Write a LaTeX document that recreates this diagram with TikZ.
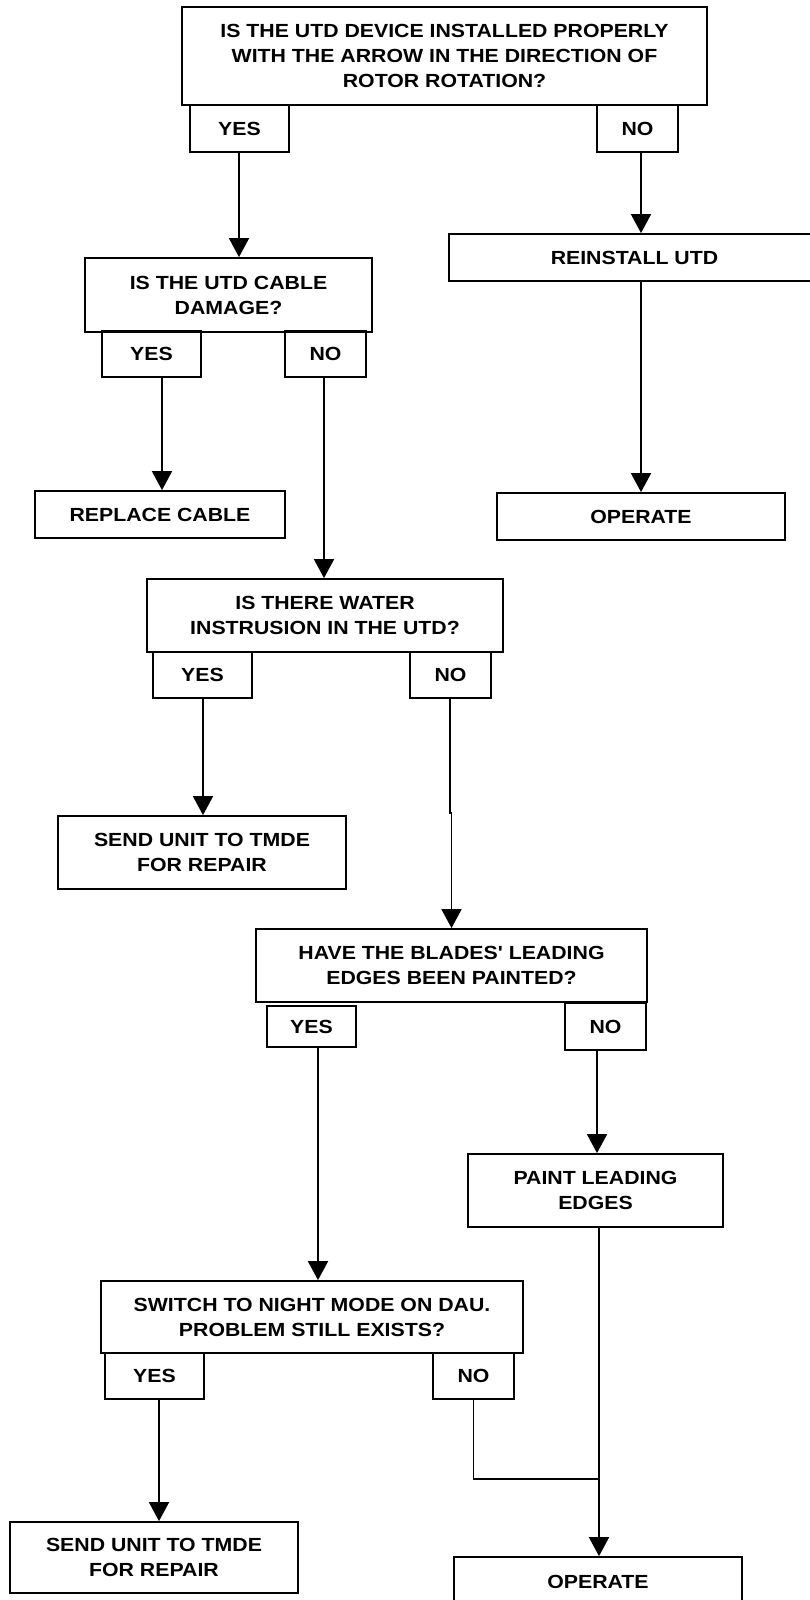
\documentclass[tikz,border=0pt]{standalone}
\usepackage{fontspec}
\setmainfont{Liberation Sans}
\newfontfamily\boxfont{Liberation Sans}[FakeStretch=1.12]
\usetikzlibrary{arrows.meta}
\tikzset{
  box/.style={draw, line width=1.8pt, rectangle, inner sep=0pt, align=center,
    font=\boxfont\fontsize{19}{25}\selectfont\bfseries},
  arr/.style={line width=1.8pt, -{Triangle[length=19pt,width=20pt]}},
  ln/.style={line width=1.8pt},
}
\begin{document}
\begin{tikzpicture}[x=1pt,y=-1pt]
\useasboundingbox (0,0) rectangle (810,1600);
\clip (0,0) rectangle (810,1600);
% nodes
\node[box, minimum width=525, minimum height=98] (q1) at (444.5,56) {IS THE UTD DEVICE INSTALLED PROPERLY\\WITH THE ARROW IN THE DIRECTION OF\\ROTOR ROTATION?};
\node[box, minimum width=99, minimum height=47] (yes1) at (239.5,128.5) {YES};
\node[box, minimum width=81, minimum height=47] (no1) at (637.5,128.5) {NO};
\node[box, minimum width=371, minimum height=47] (reinst) at (634.5,257.5) {REINSTALL UTD};
\node[box, minimum width=287, minimum height=74] (cable) at (228.5,295) {IS THE UTD CABLE\\DAMAGE?};
\node[box, minimum width=99, minimum height=46] (yes2) at (151.5,354) {YES};
\node[box, minimum width=81, minimum height=46] (no2) at (325.5,354) {NO};
\node[box, minimum width=250, minimum height=47] (replace) at (160,514.5) {REPLACE CABLE};
\node[box, minimum width=288, minimum height=47] (operate1) at (641,516.5) {OPERATE};
\node[box, minimum width=356, minimum height=73] (q3) at (325,615.5) {IS THERE WATER\\INSTRUSION IN THE UTD?};
\node[box, minimum width=99, minimum height=46] (yes3) at (202.5,675) {YES};
\node[box, minimum width=81, minimum height=46] (no3) at (450.5,675) {NO};
\node[box, minimum width=288, minimum height=73] (send1) at (202,852.5) {SEND UNIT TO TMDE\\FOR REPAIR};
\node[box, minimum width=391, minimum height=73] (q4) at (451.5,965.5) {HAVE THE BLADES' LEADING\\EDGES BEEN PAINTED?};
\node[box, minimum width=89, minimum height=41] (yes4) at (311.5,1026.5) {YES};
\node[box, minimum width=81, minimum height=47] (no4) at (605.5,1026.5) {NO};
\node[box, minimum width=255, minimum height=73] (paint) at (595.5,1190.5) {PAINT LEADING\\EDGES};
\node[box, minimum width=422, minimum height=72] (q5) at (312,1317) {SWITCH TO NIGHT MODE ON DAU.\\PROBLEM STILL EXISTS?};
\node[box, minimum width=99, minimum height=46] (yes5) at (154.5,1376) {YES};
\node[box, minimum width=81, minimum height=46] (no5) at (473.5,1376) {NO};
\node[box, minimum width=288, minimum height=71] (send2) at (154,1557.5) {SEND UNIT TO TMDE\\FOR REPAIR};
\node[box, minimum width=288, minimum height=49] (operate2) at (598,1581.5) {OPERATE};
% connectors
\draw[arr] ([xshift=-0.5]yes1.south) -- ([xshift=-0.5]yes1.south |- cable.north);
\draw[arr] ([xshift=3.5]no1.south) -- ([xshift=3.5]no1.south |- reinst.north);
\draw[arr] ([xshift=6.5]reinst.south) -- ([xshift=6.5]reinst.south |- operate1.north);
\draw[arr] ([xshift=10.5]yes2.south) -- ([xshift=10.5]yes2.south |- replace.north);
\draw[arr] ([xshift=-1.5]no2.south) -- ([xshift=-1.5]no2.south |- q3.north);
\draw[arr] ([xshift=0.5]yes3.south) -- ([xshift=0.5]yes3.south |- send1.north);
\coordinate (j3a) at ([xshift=-0.5,yshift=-114]no3.south);
\coordinate (j3b) at ([xshift=1.5]j3a);
\draw[ln] ([xshift=-0.5]no3.south) -- (j3a) -- (j3b);
\draw[arr] (j3b) -- (j3b |- q4.north);
\draw[arr] ([xshift=6.5]yes4.south) -- ([xshift=6.5]yes4.south |- q5.north);
\draw[arr] ([xshift=-8.5]no4.south) -- ([xshift=-8.5]no4.south |- paint.north);
\draw[arr] ([xshift=3.5]paint.south) -- ([xshift=3.5]paint.south |- operate2.north);
\draw[arr] ([xshift=4.5]yes5.south) -- ([xshift=4.5]yes5.south |- send2.north);
\coordinate (j5) at ([yshift=-79]no5.south);
\draw[ln] (no5.south) -- (j5) -- ([xshift=3.5]j5 -| paint.south);
\end{tikzpicture}
\end{document}
